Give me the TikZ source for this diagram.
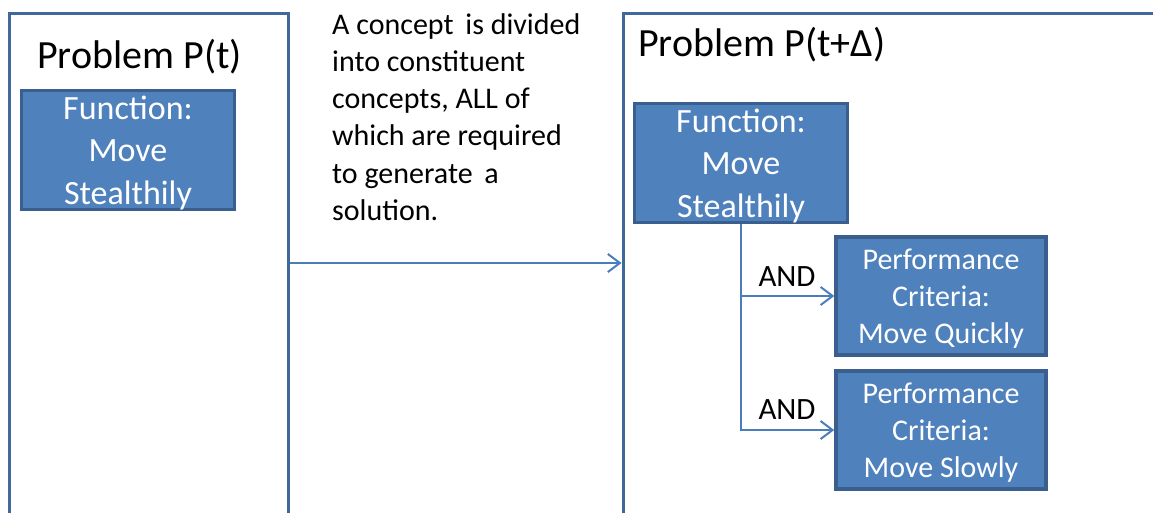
\documentclass[tikz,border=0pt]{standalone}
\usepackage{fontspec}
\setmainfont{Carlito}
\usetikzlibrary{arrows.meta}
\definecolor{framec}{RGB}{65,104,155}
\definecolor{boxfill}{RGB}{79,129,189}
\definecolor{boxline}{RGB}{58,95,142}
\definecolor{connc}{RGB}{74,126,187}
\begin{document}
\begin{tikzpicture}[x=1pt,y=-1pt,
  frame/.style={draw=framec, line width=3.5pt, inner sep=0pt, anchor=north west},
  fbox/.style={draw=boxline, fill=boxfill, line width=3.5pt, text=white, align=center,
    inner sep=0pt, minimum width=213pt, minimum height=119pt, text depth=0pt,
    font=\fontsize{34}{42.5}\selectfont},
  pbox/.style={draw=boxline, fill=boxfill, line width=3.5pt, text=white, align=center,
    inner sep=0pt, minimum width=210pt, minimum height=118pt, text depth=0pt,
    font=\fontsize{30}{37}\selectfont},
  title/.style={anchor=west, inner sep=0pt, font=\fontsize{40}{48}\selectfont},
  lbl/.style={inner sep=0pt, font=\fontsize{31}{37}\selectfont},
  conn/.style={draw=connc, line width=2pt, -{Straight Barb[length=12pt,width=18pt]}}]
\useasboundingbox (0,0) rectangle (1153,512);
\fill[white] (0,0) rectangle (1153,512);
\clip (0,0) rectangle (1153,512);
% frames
\node[frame, minimum width=279pt, minimum height=540pt] (lf) at (7.5,11.5) {};
\node[frame, minimum width=560pt, minimum height=540pt] (rf) at (621.5,11.5) {};
% titles
\node[title] (t1) at (37,57) {Problem P(t)};
\node[title] (t2) at (638,45) {Problem P(t+Δ)};
% boxes
\node[fbox] (f1) at (128,150) {Function:\\Move\\Stealthily};
\node[fbox] (f2) at (741,163) {Function:\\Move\\Stealthily};
\node[pbox] (p1) at (941,296) {Performance\\Criteria:\\Move Quickly};
\node[pbox] (p2) at (941,430) {Performance\\Criteria:\\Move Slowly};
% description
\node[anchor=north west, inner sep=0pt, align=left, font=\fontsize{30}{37.3}\selectfont] (desc) at (332,13)
  {A concept\hspace{5pt} is divided\\into constituent\\concepts, ALL of\\which are required\\to generate\hspace{5pt} a\\solution.};
% labels
\node[lbl] (and1) at (787,277) {AND};
\node[lbl] (and2) at (787,410) {AND};
% connectors
\coordinate (ay) at (0,263);
\draw[conn] (lf.east |- ay) -- (rf.west |- ay);
\draw[conn] (f2.south) |- (p1.west);
\draw[conn] (f2.south) |- (p2.west);
\end{tikzpicture}
\end{document}
